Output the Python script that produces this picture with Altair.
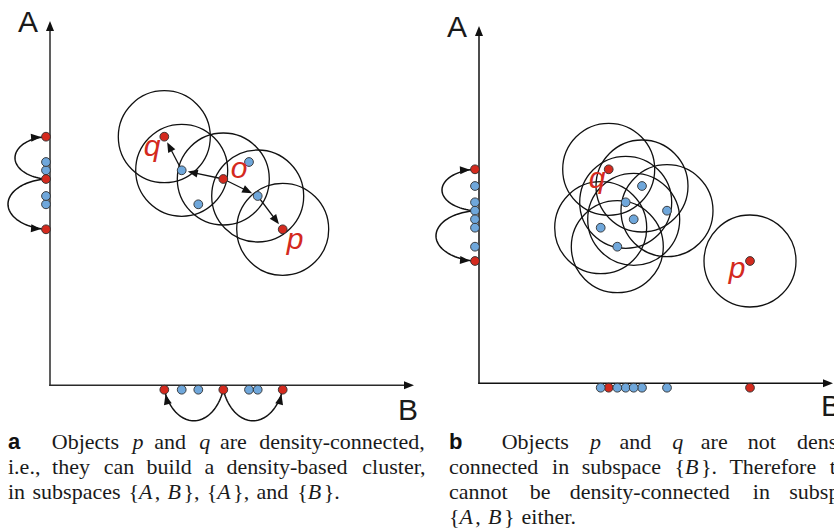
import math
import altair as alt
import pandas as pd

W, H = 834, 528
RED = "#d42a1e"
BLUE = "#6fa7db"
EDGE = "#303030"
INK = "#111111"

# ---------------- data (pixel positions) ----------------
# Panel a: objects in the full space {A, B}
a_B = [164.3, 181.7, 223.3, 249.0, 198.3, 257.7, 282.7]
a_A = [136.7, 170.3, 179.0, 162.0, 204.3, 196.0, 229.3]
a_red = [1, 0, 1, 0, 0, 0, 1]
a_eps = [0, 1, 2, 5, 6]                       # objects with an eps-circle
a_arrows = [(2, 1), (1, 0), (2, 5), (5, 6)]   # direct density reachability
a_arcs_A = [(2, 0, 31), (2, 6, 38)]           # chains in subspace {A}
a_arcs_B = [(2, 0, 31), (2, 6, 31)]           # chains in subspace {B}
a_names = ["q", "o", "p"]
a_name_x = [152, 239, 295]
a_name_y = [156, 178, 249]

# Panel b
b_B = [608.7, 642.0, 625.7, 667.0, 633.7, 600.7, 617.3, 750.0]
b_A = [169.3, 186.0, 202.3, 210.7, 219.3, 227.7, 246.7, 261.0]
b_red = [1, 0, 0, 0, 0, 0, 0, 1]
b_eps = [0, 1, 2, 3, 4, 5, 6, 7]
b_arrows = []
b_arcs_A = [(3, 0, 33), (3, 7, 39)]
b_arcs_B = []
b_names = ["q", "p"]
b_name_x = [597, 737]
b_name_y = [188, 278]

axis_names = ["A", "B", "A", "B"]

A_LINES = [("#a Objects $p$ and $q$ are density-connected,", True),
           ("i.e., they can build a density-based cluster,", True),
           ("in subspaces {$A$, $B$}, {$A$}, and {$B$}.", False)]
B_LINES = [("#b Objects $p$ and $q$ are not density-", True),
           ("connected in subspace {$B$}. Therefore they", True),
           ("cannot be density-connected in subspace", True),
           ("{$A$, $B$} either.", False)]

# ---------------- layout constants ----------------
EPS_R = 46
DOT_R = 4.4
HEAD = 10.0
HEAD_PATH = "M0,-1L-0.8,1L0.8,1Z"

panels = [
    dict(B=a_B, A=a_A, red=a_red, eps=a_eps, arrows=a_arrows, arcsA=a_arcs_A,
         arcsB=a_arcs_B, ax=50.0, ay=385.3, top=21.0, right=414.0,
         labA=(18, 32), labB=(398, 420), ink="#2a2a2a",
         names=a_names, nx=a_name_x, ny=a_name_y),
    dict(B=b_B, A=b_A, red=b_red, eps=b_eps, arrows=b_arrows, arcsA=b_arcs_A,
         arcsB=b_arcs_B, ax=479.0, ay=383.3, top=26.0, right=833.0,
         labA=(447, 37), labB=(821, 416), ink=INK,
         names=b_names, nx=b_name_x, ny=b_name_y),
]

segs, heads, circles, dots, curves, names, labels = [], [], [], [], [], [], []


def add_head(tx, ty, dx, dy):
    L = math.hypot(dx, dy)
    dx, dy = dx / L, dy / L
    ang = math.degrees(math.atan2(dx, -dy)) % 360
    heads.append(dict(x=tx - dx * HEAD / 2, y=ty - dy * HEAD / 2, ang=ang))
    return tx - dx * HEAD * 0.9, ty - dy * HEAD * 0.9


def add_arc(cid, p0, p1, depth, n_out, t0, npts=48):
    ux, uy = p1[0] - p0[0], p1[1] - p0[1]
    d = math.hypot(ux, uy)
    ux, uy = ux / d, uy / d
    mx, my = (p0[0] + p1[0]) / 2, (p0[1] + p1[1]) / 2
    a = (d / 2) / math.cos(t0)
    b = depth / (1 - math.sin(t0))
    cx, cy = mx - n_out[0] * b * math.sin(t0), my - n_out[1] * b * math.sin(t0)
    for k in range(npts + 1):
        t = t0 + (math.pi - 2 * t0) * k / npts
        curves.append(dict(id=cid, k=k,
                           x=cx - ux * a * math.cos(t) + n_out[0] * b * math.sin(t),
                           y=cy - uy * a * math.cos(t) + n_out[1] * b * math.sin(t)))
    t = math.pi - t0
    dx = ux * a * math.sin(t) + n_out[0] * b * math.cos(t)
    dy = uy * a * math.sin(t) + n_out[1] * b * math.cos(t)
    L = math.hypot(dx, dy)
    dx, dy = dx / L, dy / L
    add_head(p1[0] - dx * (DOT_R + 0.6), p1[1] - dy * (DOT_R + 0.6), dx, dy)


for pi_, P in enumerate(panels):
    ax, ay = P["ax"], P["ay"]
    # axes
    ex, ey = add_head(ax, P["top"], 0, -1)
    segs.append(dict(x=ax, y=ay + 0.7, x2=ax, y2=ey, w=1.5, c=P["ink"]))
    ex, ey = add_head(P["right"], ay, 1, 0)
    segs.append(dict(x=ax - 0.7, y=ay, x2=ex, y2=ay, w=1.5, c=P["ink"]))
    labels.append(dict(t="A", x=P["labA"][0], y=P["labA"][1]))
    labels.append(dict(t="B", x=P["labB"][0], y=P["labB"][1]))
    xs, ys = P["B"], P["A"]
    for i in P["eps"]:
        circles.append(dict(x=xs[i], y=ys[i]))
    for s, t in P["arrows"]:
        dx, dy = xs[t] - xs[s], ys[t] - ys[s]
        L = math.hypot(dx, dy)
        tx, ty = xs[t] - dx / L * (DOT_R + 1.8), ys[t] - dy / L * (DOT_R + 1.8)
        ex, ey = add_head(tx, ty, dx, dy)
        segs.append(dict(x=xs[s], y=ys[s], x2=ex, y2=ey, w=1.3, c=INK))
    pxA = ax - 4.0
    pyB = ay + 4.4
    for j, (s, t, dep) in enumerate(P["arcsA"]):
        add_arc(f"{pi_}A{j}", (pxA, ys[s]), (pxA, ys[t]), dep, (-1, 0), 0.12)
    for j, (s, t, dep) in enumerate(P["arcsB"]):
        add_arc(f"{pi_}B{j}", (xs[s], pyB), (xs[t], pyB), dep, (0, 1), 0.35)
    for i in range(len(xs)):
        col = RED if P["red"][i] else BLUE
        dots.append(dict(x=xs[i], y=ys[i], c=col))
        dots.append(dict(x=pxA, y=ys[i], c=col))
        dots.append(dict(x=xs[i], y=pyB, c=col))
    for t, x, y in zip(P["names"], P["nx"], P["ny"]):
        names.append(dict(t=t, x=x, y=y))

# ---------------- captions ----------------
FS = 21.0
CMR = {"a": .5, "b": .556, "c": .444, "d": .556, "e": .444, "f": .306, "g": .5,
       "h": .556, "i": .278, "j": .306, "k": .528, "l": .278, "m": .833, "n": .556,
       "o": .5, "p": .556, "q": .528, "r": .392, "s": .394, "t": .389, "u": .556,
       "v": .528, "w": .722, "x": .528, "y": .528, "z": .444, "O": .778, "T": .722,
       ",": .278, ".": .278, "-": .333, "{": .5, "}": .5}
CMMI = {"A": .75, "B": .759, "p": .503, "q": .46}
HB = {"a": .556, "b": .611}
TABS = {"r": CMR, "i": CMMI, "t": HB}


def piece_w(t, s):
    return sum(TABS[s].get(ch, .5) for ch in t) * FS


def parse_word(w):
    if w.startswith("#"):
        return [(w[1:], "t")]
    parts = w.split("$")
    return [(p, "i" if k % 2 else "r") for k, p in enumerate(parts) if p]


cap = []


def lay_line(text, left, right, justify, base):
    words = [parse_word(w) for w in text.split()]
    widths = [sum(piece_w(t, s) for t, s in wd) for wd in words]
    extra = [FS if wd[0][1] == "t" else 0 for wd in words]
    n = len(words)
    gap = (right - left - sum(widths) - sum(extra)) / (n - 1) if justify else 0.333 * FS
    x = left
    for wd, w_, e in zip(words, widths, extra):
        xx = x
        for t, s in wd:
            cap.append(dict(t=t, s=s, x=xx, y=base))
            xx += piece_w(t, s)
        x += w_ + e + gap


COL_W = 421
for k, (txt, j) in enumerate(A_LINES):
    lay_line(txt, 8, 8 + COL_W, j, 449 + 25 * k)
for k, (txt, j) in enumerate(B_LINES):
    lay_line(txt, 449, 449 + COL_W, j, 449 + 25 * k)

cap_df = pd.DataFrame(cap)

# ---------------- chart ----------------
XS = alt.Scale(domain=[0, W], range=[0, W], nice=False, zero=False)
YS = alt.Scale(domain=[0, H], range=[0, H], nice=False, zero=False)


def X(f):
    return alt.X(f, type="quantitative", scale=XS, axis=None)


def Y(f):
    return alt.Y(f, type="quantitative", scale=YS, axis=None)


circ_layer = alt.Chart(pd.DataFrame(circles)).mark_point(
    shape="circle", filled=False, size=(2 * EPS_R) ** 2, color=INK,
    strokeWidth=1.3, opacity=1).encode(x=X("x"), y=Y("y"))

seg_layer = alt.Chart(pd.DataFrame(segs)).mark_rule().encode(
    x=X("x"), y=Y("y"), x2="x2:Q", y2="y2:Q",
    strokeWidth=alt.StrokeWidth("w:Q", scale=None),
    color=alt.Color("c:N", scale=None))

curve_layer = alt.Chart(pd.DataFrame(curves)).mark_line(
    color=INK, strokeWidth=1.5).encode(
    x=X("x"), y=Y("y"), detail="id:N", order="k:Q")

head_layer = alt.Chart(pd.DataFrame(heads)).mark_point(
    shape=HEAD_PATH, filled=True, size=HEAD * HEAD, color=INK, opacity=1,
    strokeWidth=0).encode(x=X("x"), y=Y("y"),
                          angle=alt.Angle("ang:Q", scale=None))

dot_layer = alt.Chart(pd.DataFrame(dots)).mark_point(
    shape="circle", filled=True, size=(2 * DOT_R) ** 2, opacity=1,
    stroke=EDGE, strokeWidth=0.9).encode(
    x=X("x"), y=Y("y"), fill=alt.Fill("c:N", scale=None))

name_layer = alt.Chart(pd.DataFrame(names)).mark_text(
    font="Liberation Sans", fontStyle="italic", fontSize=30, color=RED,
    align="center", baseline="alphabetic").encode(x=X("x"), y=Y("y"), text="t:N")

lab_layer = alt.Chart(pd.DataFrame(labels)).mark_text(
    font="Liberation Sans", fontSize=30, color="#1a1a1a",
    align="left", baseline="alphabetic").encode(x=X("x"), y=Y("y"), text="t:N")

cap_r = alt.Chart(cap_df[cap_df.s == "r"]).mark_text(
    font="Liberation Serif", fontSize=22, color="#1a1a1a",
    align="left", baseline="alphabetic").encode(x=X("x"), y=Y("y"), text="t:N")
cap_i = alt.Chart(cap_df[cap_df.s == "i"]).mark_text(
    font="Liberation Serif", fontStyle="italic", fontSize=22, color="#1a1a1a",
    align="left", baseline="alphabetic").encode(x=X("x"), y=Y("y"), text="t:N")
cap_t = alt.Chart(cap_df[cap_df.s == "t"]).mark_text(
    font="Liberation Sans", fontWeight="bold", fontSize=22, color="#111111",
    align="left", baseline="alphabetic").encode(x=X("x"), y=Y("y"), text="t:N")

chart = alt.layer(
    circ_layer, seg_layer, curve_layer, head_layer, dot_layer,
    name_layer, lab_layer, cap_r, cap_i, cap_t
).properties(
    width=W, height=H, padding=0, autosize=alt.AutoSizeParams(type="none"),
    background="white"
).configure_view(stroke=None)

chart.save("out.html", embed_options={"renderer": "svg", "actions": False})
